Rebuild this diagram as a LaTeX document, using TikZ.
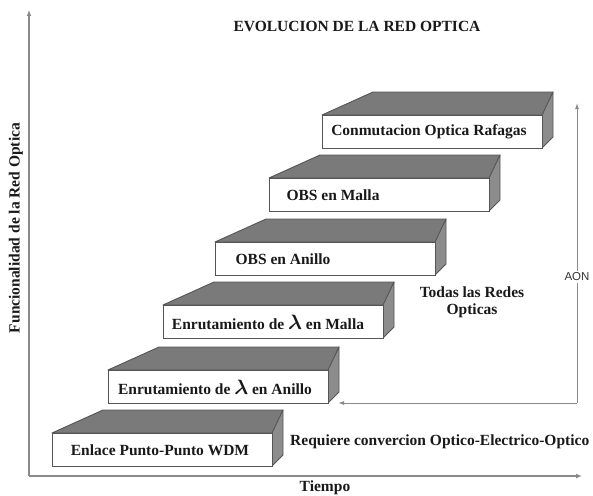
\documentclass[tikz,border=0pt]{standalone}
\usepackage{fontspec}
\setmainfont{Liberation Serif}
\newfontfamily\aonfont{Liberation Sans}
\usetikzlibrary{arrows.meta}
\definecolor{topgray}{HTML}{7A7A7A}
\definecolor{sidegray}{HTML}{8C8C8C}
\definecolor{edgegray}{HTML}{555555}
\definecolor{axisgray}{HTML}{8A8A8A}
\newcommand{\biglam}{{\fontsize{22}{22}\selectfont\boldmath$\lambda$}}
\tikzset{
  lbl/.style={font=\fontsize{15.5}{17}\selectfont\bfseries, inner sep=0pt, text=black!90},
  facefront/.style={draw=edgegray, fill=white, line width=0.9pt},
  facetop/.style={draw=edgegray, fill=topgray, line width=0.9pt, line join=round},
  faceside/.style={draw=edgegray, fill=sidegray, line width=0.9pt, line join=round},
  axisline/.style={draw=axisgray, line width=1.8pt, -{Latex[length=6pt,width=5pt]}},
  aonline/.style={draw=axisgray, line width=1pt, -{Latex[length=6pt,width=4pt]}},
}
\newcommand{\stepblock}[5]{%
  % #1 x, #2 y (front top-left, px from top), #3 name, #4 text center x, #5 text
  \fill[facetop] (#1,-#2) -- ++(51,23) -- ++(180,0) -- ++(-10,-23) -- cycle;
  \fill[faceside] (#1+220,-#2) -- ++(11,23) -- ++(0,-45) -- ++(-11,-11) -- cycle;
  \draw[facefront] (#1,-#2) rectangle ++(220,-33);
  \node[lbl] (#3) at (#4,-#2-17) {#5};
}
\begin{document}
\begin{tikzpicture}[x=1pt,y=1pt]
\useasboundingbox (0,0) rectangle (593,-495);
\fill[white] (0,0) rectangle (593,-495);
% axes
\coordinate (origin) at (29,-476);
\coordinate (ytip) at (29,-10);
\coordinate (xtip) at (582,-476);
\draw[axisline] (origin) -- (ytip);
\draw[axisline] (origin) -- (xtip);
\node[lbl, rotate=90] (ylab) at (16,-228) {Funcionalidad de la Red Optica};
\node[lbl] (xlab) at (325,-488) {Tiempo};
\node[lbl] (title) at (357,-26) {EVOLUCION DE LA RED OPTICA};
% blocks
\stepblock{52}{433}{b1}{160}{Enlace Punto-Punto WDM}
\stepblock{108}{370}{b2}{215}{Enrutamiento de \biglam{} en Anillo}
\stepblock{163}{305}{b3}{268}{Enrutamiento de \biglam{} en Malla}
\stepblock{215}{242}{b4}{283}{OBS en Anillo}
\stepblock{269}{178}{b5}{333}{OBS en Malla}
\stepblock{322}{115}{b6}{429}{Conmutacion Optica Rafagas}
% AON arrows
\coordinate (aontop) at (577,-103);
\coordinate (aoncorner) at (577,-403);
\coordinate (aonend) at (338,-403);
\draw[aonline] (aoncorner) -- (aontop);
\draw[aonline] (aoncorner) -- (aonend);
\node[fill=white, inner sep=1.5pt, font=\aonfont\fontsize{11.5}{13}\selectfont, text=black!80] (aon) at (577,-277) {AON};
\node[lbl, align=center] (todas) at (472,-302) {Todas las Redes\\Opticas};
\node[lbl, anchor=west] (req) at (290,-442) {Requiere convercion Optico-Electrico-Optico};
\end{tikzpicture}
\end{document}
